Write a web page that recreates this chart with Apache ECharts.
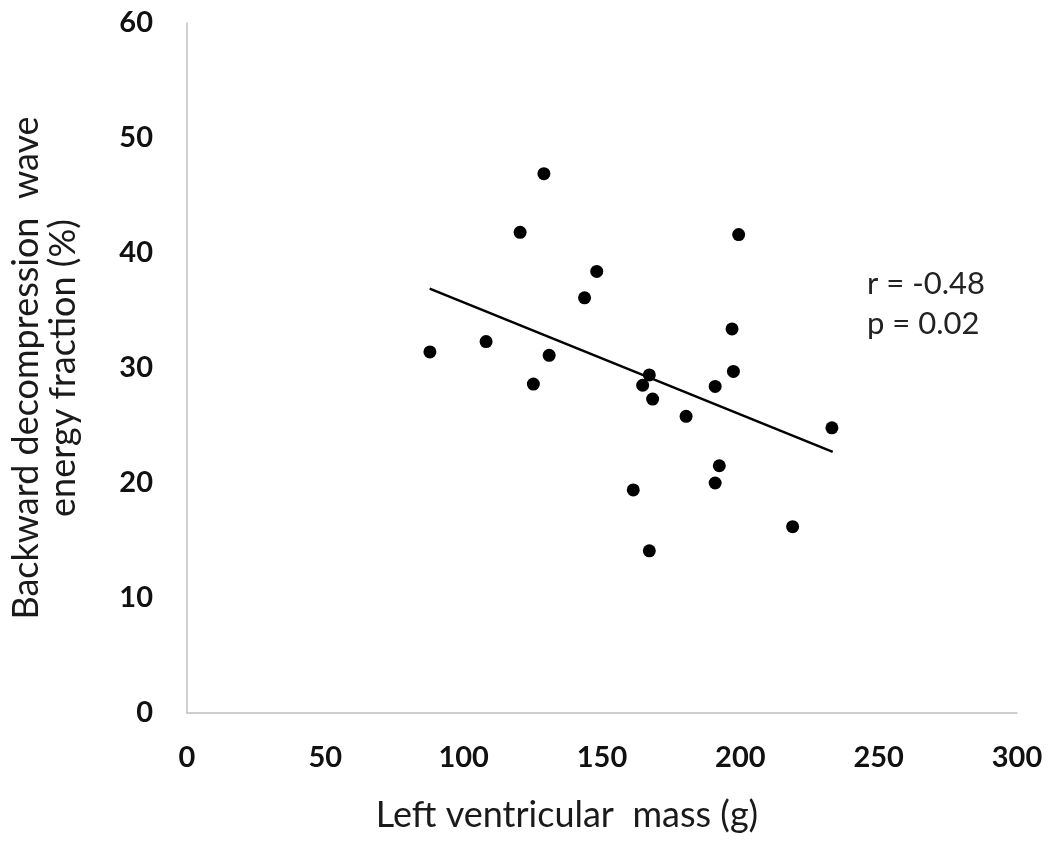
<!DOCTYPE html>
<html>
<head>
<meta charset="utf-8">
<script src="https://cdn.jsdelivr.net/npm/echarts@6/dist/echarts.min.js"></script>
<style>html,body{margin:0;padding:0;background:#fff}#c{width:1049px;height:843px}</style>
</head>
<body>
<div id="c"></div>
<script>
const massG = [87.8,108.1,120.4,125.2,129.0,130.9,143.7,148.1,167.1,164.7,168.3,199.4,197.0,197.5,190.9,180.4,233.1,192.4,190.9,161.3,218.9,167.1];
const energyPct = [31.4,32.3,41.8,28.6,46.9,31.1,36.1,38.4,29.4,28.5,27.3,41.6,33.4,29.7,28.4,25.8,24.8,21.5,20.0,19.4,16.2,14.1];
const trendX = [87.7, 233.4];
const trendY = [36.9, 22.7];
const xTicks = [0,50,100,150,200,250,300];
const yTicks = [0,10,20,30,40,50,60];
const statLines = ['r = -0.48', 'p = 0.02'];

const font = 'Lato, "Open Sans", sans-serif';
const chart = echarts.init(document.getElementById('c'), null, {renderer:'canvas'});
chart.setOption({
  animation: false,
  backgroundColor: '#fff',
  grid: {left: 187, right: 32, top: 23, bottom: 130, containLabel: false, outerBoundsMode: 'none'},
  xAxis: {
    type: 'value', min: xTicks[0], max: xTicks[xTicks.length-1], interval: 50,
    splitLine: {show: false},
    axisTick: {show: false},
    axisLine: {lineStyle: {color: '#c0c0c0', width: 1.5}},
    axisLabel: {color: '#111', fontWeight: 'bold', fontSize: 29, fontFamily: font, margin: 30},
    name: 'Left ventricular  mass (g)', nameLocation: 'middle', nameGap: 84,
    nameTextStyle: {color: '#1a1a1a', fontSize: 36, fontFamily: font, padding: [0, 70, 0, 0]}
  },
  yAxis: {
    type: 'value', min: yTicks[0], max: yTicks[yTicks.length-1], interval: 10,
    splitLine: {show: false},
    axisTick: {show: false},
    axisLine: {show: true, lineStyle: {color: '#c0c0c0', width: 1.5}},
    axisLabel: {color: '#111', fontWeight: 'bold', fontSize: 29, fontFamily: font, margin: 34},
    name: 'Backward decompression  wave\nenergy fraction (%)', nameLocation: 'middle', nameGap: 105,
    nameTextStyle: {color: '#1a1a1a', fontSize: 36, fontFamily: font, lineHeight: 37}
  },
  graphic: [{
    type: 'text', left: 867, top: 264,
    style: {text: statLines.join('\n'), font: '31px ' + font, fill: '#222', lineHeight: 40}
  }],
  series: [{
    type: 'scatter',
    data: massG.map((x,i)=>[x, energyPct[i]]),
    symbolSize: 13,
    itemStyle: {color: '#000', opacity: 1}
  },{
    type: 'line',
    data: trendX.map((x,i)=>[x, trendY[i]]),
    symbol: 'none',
    lineStyle: {color: '#000', width: 2.5}
  }]
});
</script>
</body>
</html>
